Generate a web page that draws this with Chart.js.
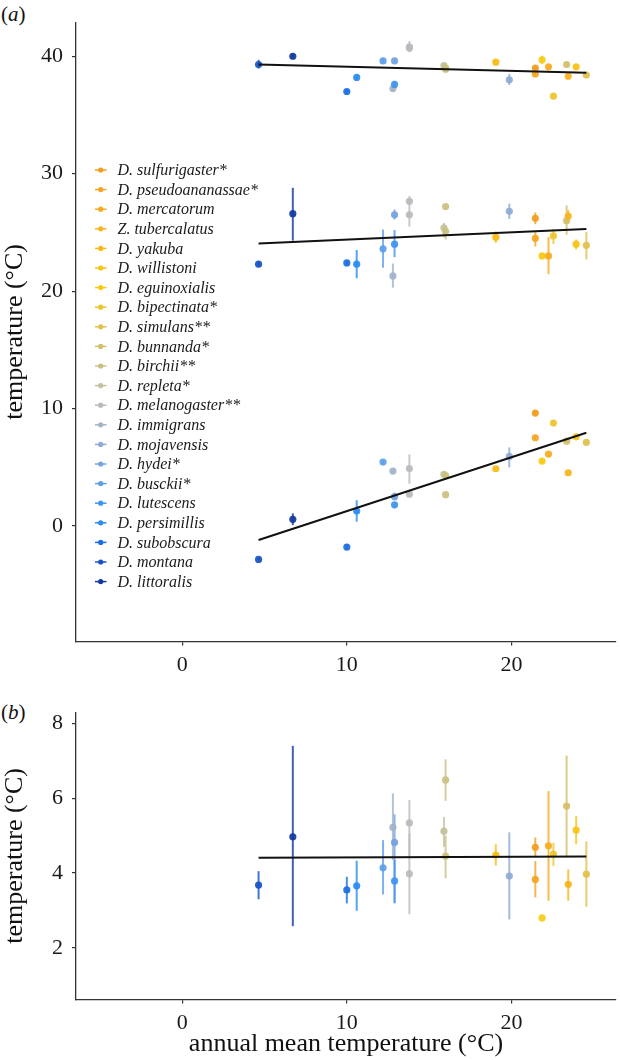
<!DOCTYPE html>
<html>
<head>
<meta charset="utf-8">
<script src="https://cdn.jsdelivr.net/npm/chart.js@4/dist/chart.umd.min.js"></script>
<style>
  body { margin: 0; background: #fff; width: 620px; height: 1060px; position: relative; overflow: hidden; }
  canvas { position: absolute; left: 0; }
  #panelA { top: 0; }
  #panelB { top: 690px; }
  .tag { position: absolute; left: 1px; font: 21px "Liberation Serif", serif; color: #111; }
</style>
</head>
<body>
<div class="tag" style="top: 2px;">(<i>a</i>)</div>
<div class="tag" style="top: 700px;">(<i>b</i>)</div>
<canvas id="panelA" width="620" height="690"></canvas>
<canvas id="panelB" width="620" height="370"></canvas>
<script>
  const species = ['D. sulfurigaster*', 'D. pseudoananassae*', 'D. mercatorum', 'Z. tubercalatus',
    'D. yakuba', 'D. willistoni', 'D. eguinoxialis', 'D. bipectinata*', 'D. simulans**',
    'D. bunnanda*', 'D. birchii**', 'D. repleta*', 'D. melanogaster**', 'D. immigrans',
    'D. mojavensis', 'D. hydei*', 'D. busckii*', 'D. lutescens', 'D. persimillis',
    'D. subobscura', 'D. montana', 'D. littoralis'];
  const speciesColours = ['#f39c1f', '#f5a524', '#f7ab1f', '#f8b41c', '#f9bb16', '#fac313',
    '#f8cb12', '#eec52e', '#e1c14c', '#d5bf68', '#cbc17f', '#c2c19a', '#b9bbbf', '#a4b3c9',
    '#8eaad4', '#74a3de', '#5b9fe7', '#3f95ee', '#2a8bf0', '#1b6fe0', '#1553c4', '#1238a0'];

  // one entry per population: annual mean temperature of origin and its species
  const annualMean = [4.64, 6.72, 10.0, 10.6, 12.2, 12.8, 12.9, 12.9, 13.8, 13.8, 15.9, 16.0,
    16.0, 19.05, 19.87, 21.45, 21.45, 21.86, 22.25, 22.55, 23.35, 23.45, 23.93, 24.55];
  const pointSpecies = [20, 21, 19, 18, 16, 13, 15, 17, 12, 12, 11, 10, 10, 4, 14, 0, 1, 6, 2, 7, 9, 3, 5, 8];

  // panel a, upper cluster
  const upperTemp = [39.3, 40.0, 37.0, 38.2, 39.6, 37.25, 39.6, 37.6, 40.8, 40.7, 39.2, 38.9,
    39.0, 39.5, 38.0, 39.0, 38.5, 39.7, 39.1, 36.6, 39.3, 38.3, 39.1, 38.4];
  const upperLo = [38.95, 39.8, 36.8, 38.0, 39.4, 37.0, 39.4, 37.3, 40.35, 40.5, 39.0, 38.7,
    38.8, 39.3, 37.55, 38.8, 38.3, 39.35, 38.9, 36.4, 39.1, 38.1, 38.9, 38.2];
  const upperHi = [39.7, 40.2, 37.2, 38.4, 39.8, 37.5, 39.8, 37.9, 41.3, 40.9, 39.4, 39.1,
    39.2, 39.7, 38.5, 39.2, 38.7, 40.05, 39.3, 36.8, 39.5, 38.5, 39.3, 38.6];

  // panel a, middle cluster
  const midTemp = [22.3, 26.6, 22.4, 22.3, 23.6, 21.3, 26.5, 24.0, 26.5, 27.65, 25.4, 27.2,
    25.1, 24.6, 26.8, 26.2, 24.5, 23.0, 23.0, 24.7, 26.0, 26.4, 24.0, 23.9];
  const midLo = [22.1, 24.3, 22.2, 21.1, 22.0, 20.3, 26.1, 22.9, 25.5, 27.45, 24.6, 27.0,
    24.4, 24.1, 26.15, 25.7, 23.8, 22.8, 21.45, 24.0, 24.8, 26.05, 23.55, 22.7];
  const midHi = [22.5, 28.8, 22.6, 23.5, 25.25, 22.35, 26.95, 25.2, 28.1, 27.85, 25.8, 27.4,
    25.4, 25.1, 27.45, 26.7, 25.05, 23.2, 24.6, 25.3, 27.3, 26.9, 24.4, 25.05];

  // panel a, lower cluster
  const lowerTemp = [-2.84, 0.57, -1.79, 1.28, 5.45, 4.68, 2.5, 1.81, 4.9, 2.71, 4.4, 4.3,
    2.67, 4.88, 5.93, 9.62, 7.52, 5.53, 6.13, 8.77, 7.23, 4.54, 7.6, 7.12];
  const lowerLo = [-2.95, 0.08, -2.0, 0.37, 5.3, 4.55, 2.2, 1.65, 3.6, 2.55, 4.25, 4.15,
    2.5, 4.7, 5.0, 9.45, 7.35, 5.4, 5.95, 8.6, 7.05, 4.35, 7.45, 6.95];
  const lowerHi = [-2.7, 1.08, -1.55, 2.2, 5.6, 4.8, 2.85, 1.95, 6.1, 2.85, 4.55, 4.45,
    2.8, 5.05, 6.7, 9.8, 7.7, 5.7, 6.3, 8.95, 7.4, 4.7, 7.75, 7.3];

  // panel b
  const breadth = [3.68, 4.97, 3.55, 3.66, 4.14, 5.22, 4.82, 3.79, 5.34, 3.98, 5.12, 6.49,
    4.45, 4.48, 3.92, 4.69, 3.83, 2.8, 4.73, 4.51, 5.79, 3.7, 5.15, 3.97];
  const breadthLo = [3.3, 2.58, 3.19, 2.99, 3.43, 4.35, 3.2, 3.19, 4.44, 2.9, 4.7, 5.93,
    3.86, 4.2, 2.76, 4.44, 3.35, 2.8, 3.26, 4.19, 4.44, 3.26, 4.77, 3.1];
  const breadthHi = [4.05, 7.4, 3.9, 4.33, 4.88, 6.13, 5.57, 4.35, 5.95, 5.06, 5.5, 7.04,
    5.0, 4.77, 5.09, 4.95, 4.32, 2.8, 6.19, 4.81, 7.14, 4.1, 5.52, 4.85];

  // fitted lines, end points
  const fitX = [4.64, 24.55];
  const upperFit = [39.3, 38.6];
  const midFit = [24.06, 25.3];
  const lowerFit = [-1.19, 7.94];
  const breadthFit = [4.41, 4.44];

  const xTicks = [0, 10, 20];
  const yTicksA = [0, 10, 20, 30, 40];
  const yTicksB = [2, 4, 6, 8];

  const serif = '"Liberation Serif", "DejaVu Serif", serif';
  const axisCol = '#333';
  const pointColours = pointSpecies.map(s => speciesColours[s]);

  function withAlpha(hex, a) {
    const n = parseInt(hex.slice(1), 16);
    return `rgba(${n >> 16}, ${(n >> 8) & 255}, ${n & 255}, ${a})`;
  }

  const errorBars = {
    id: 'errorBars',
    beforeDatasetsDraw(chart, args, opts) {
      const { ctx, scales: { x, y } } = chart;
      ctx.save();
      ctx.lineWidth = 2;
      opts.groups.forEach(g => {
        annualMean.forEach((t, i) => {
          if (g.hi[i] - g.lo[i] < 0.01) return;
          const px = x.getPixelForValue(t);
          ctx.strokeStyle = withAlpha(pointColours[i], 0.8);
          ctx.beginPath();
          ctx.moveTo(px, y.getPixelForValue(g.lo[i]));
          ctx.lineTo(px, y.getPixelForValue(g.hi[i]));
          ctx.stroke();
        });
      });
      ctx.restore();
    }
  };

  const speciesKey = {
    id: 'speciesKey',
    afterDatasetsDraw(chart, args, opts) {
      if (!opts.show) return;
      const ctx = chart.ctx;
      ctx.save();
      ctx.font = 'italic 16px ' + serif;
      ctx.textBaseline = 'middle';
      species.forEach((name, i) => {
        const yy = 170 + i * 19.6;
        ctx.strokeStyle = speciesColours[i];
        ctx.fillStyle = speciesColours[i];
        ctx.lineWidth = 1.5;
        ctx.beginPath();
        ctx.moveTo(95, yy);
        ctx.lineTo(106.5, yy);
        ctx.stroke();
        ctx.beginPath();
        ctx.arc(100.7, yy, 2.6, 0, Math.PI * 2);
        ctx.fill();
        ctx.fillStyle = '#1a1a1a';
        ctx.fillText(name, 117.5, yy + 1);
      });
      ctx.restore();
    }
  };

  function pts(values) {
    return annualMean.map((t, i) => ({ x: t, y: values[i] }));
  }

  function fitLine(values) {
    return {
      type: 'line',
      data: fitX.map((t, i) => ({ x: t, y: values[i] })),
      borderColor: '#111',
      borderWidth: 2,
      pointRadius: 0,
      order: 0
    };
  }

  function scatterSet(values) {
    return {
      type: 'scatter',
      data: pts(values),
      pointRadius: 3.6,
      pointBorderWidth: 0,
      pointBackgroundColor: pointColours.map(c => withAlpha(c, 0.92)),
      order: 1
    };
  }

  function makePanel(canvas, cfg) {
    return new Chart(canvas, {
      type: 'scatter',
      data: { datasets: cfg.datasets },
      plugins: [errorBars, speciesKey],
      options: {
        responsive: false,
        animation: false,
        devicePixelRatio: 1,
        layout: { padding: { top: 22, right: 1, left: 0, bottom: 0 } },
        plugins: {
          legend: { display: false },
          tooltip: { enabled: false },
          errorBars: { groups: cfg.groups },
          speciesKey: { show: cfg.key }
        },
        scales: {
          x: {
            type: 'linear',
            min: -6.45,
            max: 26.35,
            afterBuildTicks: s => { s.ticks = xTicks.map(v => ({ value: v })); },
            afterFit: s => { s.height = cfg.xHeight; },
            grid: { drawOnChartArea: false, drawTicks: true, tickLength: 4, color: axisCol, lineWidth: 1.2 },
            border: { color: axisCol, width: 1.3 },
            ticks: { autoSkip: false, maxRotation: 0, padding: 7, color: '#1a1a1a', font: { family: serif, size: 22 } },
            title: {
              display: !!cfg.xTitle,
              text: cfg.xTitle || '',
              color: '#111',
              font: { family: serif, size: 26 },
              padding: { top: 0, bottom: 0 }
            }
          },
          y: {
            type: 'linear',
            min: cfg.yMin,
            max: cfg.yMax,
            afterBuildTicks: s => { s.ticks = cfg.yTicks.map(v => ({ value: v })); },
            afterFit: s => { s.width = 76; },
            grid: { drawOnChartArea: false, drawTicks: true, tickLength: 4, color: axisCol, lineWidth: 1.2 },
            border: { color: axisCol, width: 1.3 },
            ticks: { autoSkip: false, padding: 9, color: '#1a1a1a', font: { family: serif, size: 22 } },
            title: {
              display: true,
              text: 'temperature (°C)',
              color: '#111',
              font: { family: serif, size: 26 },
              padding: { top: 0, bottom: 0 }
            }
          }
        }
      }
    });
  }

  makePanel(document.getElementById('panelA'), {
    datasets: [
      fitLine(upperFit), fitLine(midFit), fitLine(lowerFit),
      scatterSet(upperTemp), scatterSet(midTemp), scatterSet(lowerTemp)
    ],
    groups: [
      { lo: upperLo, hi: upperHi },
      { lo: midLo, hi: midHi },
      { lo: lowerLo, hi: lowerHi }
    ],
    key: true,
    xHeight: 48.5,
    yMin: -9.83,
    yMax: 42.9,
    yTicks: yTicksA
  });

  makePanel(document.getElementById('panelB'), {
    datasets: [fitLine(breadthFit), scatterSet(breadth)],
    groups: [{ lo: breadthLo, hi: breadthHi }],
    key: false,
    xHeight: 60.5,
    xTitle: 'annual mean temperature (°C)',
    yMin: 0.62,
    yMax: 8.3,
    yTicks: yTicksB
  });
</script>
</body>
</html>
